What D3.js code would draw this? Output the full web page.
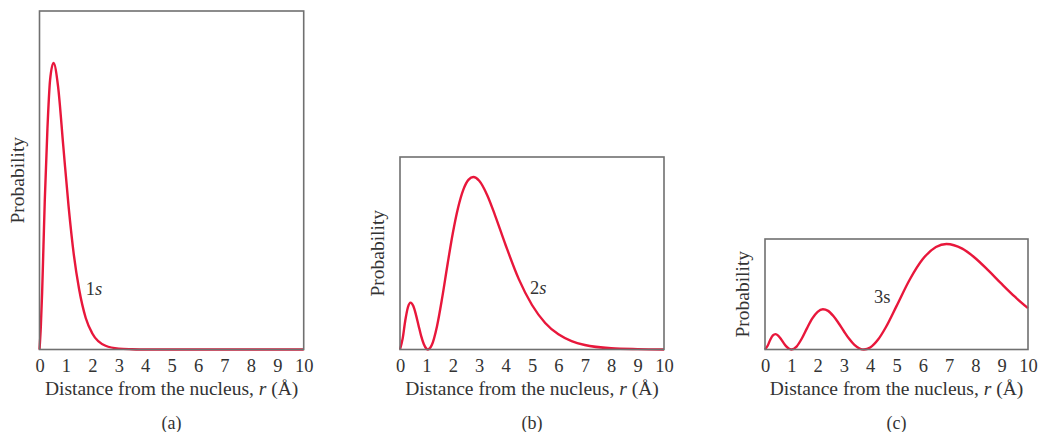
<!DOCTYPE html>
<html>
<head>
<meta charset="utf-8">
<title>Radial probability 1s 2s 3s</title>
<script src="https://cdn.jsdelivr.net/npm/d3@7/dist/d3.min.js"></script>
<style>
  body { margin: 0; background: #fff; }
  text { font-family: "Palatino Linotype", Palatino, "Book Antiqua", "Liberation Serif", serif; fill: #333; }
</style>
</head>
<body>
<div id="chart"></div>
<script>
// radial probability curves (peak = 1)
var r1s = [0,0.05,0.1,0.15,0.2,0.3,0.4,0.53,0.7,0.9,1.1,1.3,1.5,1.75,2,2.5,3,3.5,4,5,6,7,8,9,10];
var p1s = [0,0.08,0.2,0.36,0.52,0.77,0.94,1,0.92,0.71,0.5,0.33,0.21,0.11,0.056,0.013,0.003,0.001,0,0,0,0,0,0,0];

var r2s = [0,0.1,0.2,0.3,0.4,0.5,0.6,0.7,0.8,0.9,1.0,1.06,1.2,1.4,1.6,1.8,2.0,2.2,2.4,2.6,2.78,3.0,3.3,3.6,4.0,4.5,5.0,5.5,6.0,6.5,7.0,8.0,9.0,10];
var p2s = [0,0.063,0.168,0.245,0.272,0.253,0.204,0.141,0.079,0.032,0.005,0,0.024,0.134,0.302,0.493,0.674,0.822,0.927,0.985,1,0.978,0.896,0.778,0.606,0.408,0.258,0.154,0.088,0.049,0.026,0.007,0.002,0];

var r3s = [0,0.1,0.2,0.3,0.4,0.5,0.6,0.7,0.8,0.9,1.0,1.2,1.4,1.6,1.8,2.0,2.2,2.4,2.6,2.8,3.0,3.2,3.4,3.6,3.76,4.0,4.3,4.6,5.0,5.5,6.0,6.5,6.9,7.5,8.0,8.5,9.0,9.5,10];
var p3s = [0,0.035,0.093,0.134,0.146,0.132,0.102,0.065,0.032,0.009,0,0.028,0.104,0.203,0.294,0.357,0.381,0.366,0.317,0.249,0.173,0.101,0.043,0.009,0,0.019,0.094,0.213,0.411,0.661,0.857,0.971,1,0.956,0.865,0.747,0.621,0.5,0.392];

var xTicks = [0,1,2,3,4,5,6,7,8,9,10];
var orbitals = ["1s", "2s", "3s"];
var captions = ["(a)", "(b)", "(c)"];
var labelR = [1.75, 4.92, 4.14];
var labelP = [0.19, 0.32, 0.44];
var yMax = [1.181, 1.116, 1.047];

var panels = [
  {r: r1s, p: p1s, left: 39.5, right: 303.7, top: 11},
  {r: r2s, p: p2s, left: 400, right: 664, top: 157},
  {r: r3s, p: p3s, left: 765, right: 1028, top: 239}
];
var bottom = 349.5;

var svg = d3.select("#chart").append("svg")
  .attr("width", 1038)
  .attr("height", 432);

panels.forEach(function(pn, i){
  var x = d3.scaleLinear().domain([0, 10]).range([pn.left, pn.right]);
  var y = d3.scaleLinear().domain([0, yMax[i]]).range([bottom, pn.top]);
  var cx = (pn.left + pn.right) / 2;

  var line = d3.line()
    .x(function(d){ return x(d[0]); })
    .y(function(d){ return y(d[1]); })
    .curve(d3.curveMonotoneX);

  svg.append("path")
    .datum(d3.zip(pn.r, pn.p))
    .attr("d", line)
    .attr("fill", "none")
    .attr("stroke", "#e8173b")
    .attr("stroke-width", 2.4);

  svg.append("rect")
    .attr("x", pn.left).attr("y", pn.top)
    .attr("width", pn.right - pn.left).attr("height", bottom - pn.top)
    .attr("fill", "none")
    .attr("stroke", "#707070")
    .attr("stroke-width", 1.6);

  var ax = svg.append("g")
    .attr("transform", "translate(0," + bottom + ")")
    .call(d3.axisBottom(x).tickValues(xTicks).tickSize(0).tickPadding(9));
  ax.select(".domain").remove();
  ax.selectAll("text")
    .attr("font-family", null)
    .style("font-size", "18.5px")
    .attr("fill", "#333");

  svg.append("text")
    .attr("x", cx).attr("y", 395)
    .attr("text-anchor", "middle")
    .style("font-size", "19.5px")
    .html("Distance from the nucleus, <tspan font-style='italic'>r</tspan> (Å)");

  svg.append("text")
    .attr("x", cx).attr("y", 429)
    .attr("text-anchor", "middle")
    .style("font-size", "18px")
    .text(captions[i]);

  svg.append("text")
    .attr("transform", "translate(" + (pn.left - 16) + "," + ((pn.top + bottom) / 2) + ") rotate(-90)")
    .attr("text-anchor", "middle")
    .style("font-size", "19.5px")
    .text("Probability");

  var lab = svg.append("text")
    .attr("x", x(labelR[i])).attr("y", y(labelP[i]))
    .style("font-size", "18.5px");
  lab.append("tspan").text(orbitals[i].charAt(0));
  lab.append("tspan")
    .attr("font-style", i < 2 ? "italic" : null)
    .text(orbitals[i].slice(1));
});
</script>
</body>
</html>
